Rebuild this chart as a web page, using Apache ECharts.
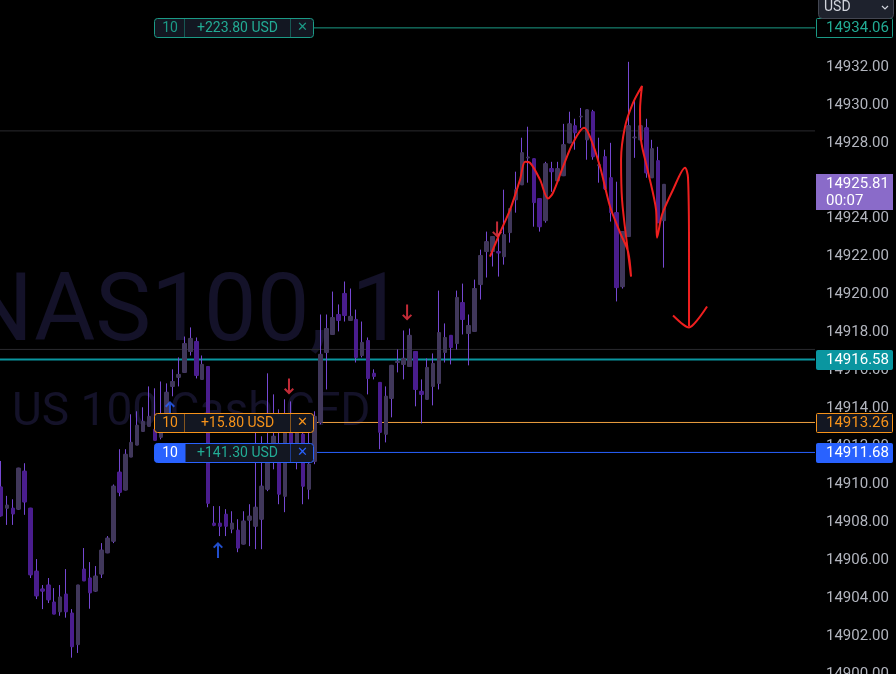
<!DOCTYPE html>
<html>
<head>
<meta charset="utf-8">
<script src="https://cdn.jsdelivr.net/npm/echarts@6/dist/echarts.min.js"></script>
<style>
  html, body { margin: 0; padding: 0; background: #000; }
  #chart { width: 896px; height: 674px; }
</style>
</head>
<body>
<div id="chart"></div>
<script>
// 1 minute bars, NAS100
const opens = [14909.86,14908.74,14908.74,14908.69,14910.69,14908.74,14905.42,14904.48,14904.69,14903.79,
  14903.28,14904.21,14903.21,14901.55,14905.53,14905.06,14904.37,14905.27,14906.39,14907.00,
  14910.64,14909.70,14911.44,14912.07,14912.79,14913.06,14912.90,14912.48,14913.42,14915.16,
  14915.64,14915.90,14917.00,14917.53,14915.53,14916.21,14907.95,14907.95,14908.42,14907.64,
  14907.58,14906.85,14908.11,14907.79,14908.16,14909.74,14911.58,14911.16,14909.37,14913.16,
  14911.95,14912.64,14909.74,14911.21,14913.27,14916.95,14917.90,14918.95,14920.06,14918.64,
  14918.69,14916.79,14917.58,14915.85,14915.37,14912.64,14914.53,14916.42,14916.32,14916.21,
  14917.00,14914.90,14914.48,14915.16,14915.32,14916.95,14917.85,14917.42,14919.58,14917.95,
  14918.06,14920.53,14922.27,14922.27,14922.27,14922.00,14923.27,14925.00,14925.79,14927.21,
  14927.16,14925.06,14923.90,14926.64,14926.00,14926.27,14928.00,14928.90,14929.37,14928.16,
  14929.64,14926.79,14927.27,14926.16,14924.32,14920.42,14923.06,14928.27,14928.16,14928.79,
  14926.16,14927.06,14923.90];
const closes = [14908.34,14908.90,14908.44,14910.85,14909.07,14905.23,14904.12,14904.37,14903.91,14903.16,
  14904.06,14903.28,14901.44,14904.69,14904.91,14904.28,14905.16,14906.53,14907.16,14909.90,
  14909.58,14911.58,14912.21,14913.11,14913.32,14913.58,14912.32,14913.21,14914.85,14915.42,
  14915.79,14917.42,14917.69,14915.74,14916.32,14909.00,14907.84,14907.79,14907.79,14907.95,
  14906.64,14908.06,14908.32,14908.79,14909.90,14912.11,14912.53,14909.48,14912.74,14911.85,
  14912.90,14909.90,14911.06,14913.58,14916.85,14918.21,14918.79,14918.64,14918.90,14918.85,
  14916.69,14917.48,14915.58,14915.69,14912.74,14914.64,14916.27,14916.48,14916.64,14917.85,
  14915.00,14914.74,14916.16,14916.37,14918.00,14917.74,14917.21,14919.85,14918.69,14918.37,
  14920.32,14922.06,14922.79,14923.06,14922.20,14923.16,14924.53,14925.53,14927.48,14927.25,
  14924.85,14923.58,14926.90,14926.48,14926.64,14927.90,14929.00,14928.53,14929.40,14929.74,
  14927.27,14926.85,14925.58,14924.32,14920.37,14923.32,14928.90,14928.30,14928.90,14926.42,
  14927.69,14923.79,14925.81];
const lows = [14908.30,14907.86,14907.86,14908.65,14908.39,14905.06,14903.95,14903.42,14903.74,14903.16,
  14903.07,14902.97,14900.86,14901.11,14904.91,14903.44,14904.33,14905.06,14906.39,14906.90,
  14909.37,14909.70,14911.44,14912.07,14912.79,14913.06,14912.32,14912.37,14913.16,14914.64,
  14915.16,14915.90,14916.79,14915.58,14915.53,14908.79,14907.79,14907.27,14907.27,14907.42,
  14906.42,14906.85,14906.74,14906.58,14906.58,14909.64,14910.79,14908.95,14908.53,14911.32,
  14910.79,14908.95,14909.21,14911.06,14913.16,14915.00,14917.90,14918.06,14918.58,14918.64,
  14916.42,14916.69,14914.74,14915.53,14911.85,14912.21,14913.53,14915.90,14915.53,14916.21,
  14914.11,14913.21,14914.48,14914.16,14915.00,14916.42,14916.32,14917.11,14917.90,14916.27,
  14918.06,14919.74,14920.90,14921.48,14920.95,14921.58,14922.74,14924.32,14925.79,14925.90,
  14923.58,14923.32,14923.79,14925.42,14926.00,14926.27,14928.00,14927.64,14928.79,14927.11,
  14927.11,14925.90,14925.53,14923.85,14919.64,14920.32,14923.06,14927.21,14928.16,14926.16,
  14926.16,14923.79,14921.42];
const highs = [14911.23,14909.39,14909.21,14910.85,14911.11,14908.74,14906.06,14904.69,14905.06,14904.53,
  14904.69,14905.53,14903.42,14904.69,14906.64,14905.90,14905.69,14906.90,14907.27,14909.99,
  14911.85,14911.85,14913.69,14913.85,14914.06,14915.16,14915.06,14915.42,14915.32,14916.06,
  14916.69,14917.79,14918.27,14917.74,14916.79,14916.21,14908.85,14908.85,14908.69,14908.58,
  14908.16,14908.58,14908.95,14912.90,14912.53,14915.85,14914.74,14913.95,14914.48,14914.37,
  14913.69,14913.42,14912.74,14913.85,14918.95,14918.95,14920.16,14919.48,14920.69,14920.32,
  14919.21,14918.58,14917.74,14916.06,14915.37,14915.16,14916.27,14917.11,14918.11,14918.21,
  14917.00,14915.53,14916.64,14916.90,14920.21,14918.48,14917.85,14920.21,14920.58,14918.95,
  14920.79,14922.37,14923.32,14923.06,14923.16,14925.53,14924.53,14926.48,14928.27,14928.85,
  14927.16,14925.06,14927.00,14927.00,14927.00,14929.00,14929.64,14929.27,14929.84,14929.74,
  14929.74,14928.27,14927.64,14928.00,14925.95,14923.32,14932.27,14930.27,14929.27,14929.27,
  14928.16,14927.79,14925.81];

// price lines / tags
const tpPrice = 14934.06, tpPnl = '+223.80 USD';
const entryPrice = 14916.58;
const order1Price = 14913.26, order1Pnl = '+15.80 USD';
const order2Price = 14911.68, order2Pnl = '+141.30 USD';
const qty = '10';
const lastPrice = 14925.81, countdown = '00:07';
const refLines = [14928.63, 14917.11];

// hand drawn stroke (bar index, price)
const drawX = [82.6,84.3,86.0,87.68,88.52,89.36,91.05,92.41,93.25,94.94,96.63,98.49,99.5,101.19,102.88,104.57,105.92,106.43,
  105.75,104.91,104.74,105.41,106.76,108.28,107.95,108.11,109.3,110.65,110.82,111.66,113.52,115.55,116.05,116.22,116.22];
const drawY = [14922.0,14923.27,14924.48,14926.06,14927.0,14926.95,14926.06,14925.06,14925.37,14926.74,14928.0,14928.79,14928.32,14926.74,14924.64,14923.27,14922.27,14920.95,
  14922.64,14925.0,14927.11,14928.85,14930.11,14931.0,14929.74,14928.16,14926.48,14924.48,14923.0,14924.21,14925.53,14926.69,14926.16,14922.37,14918.32];
const headX = [113.52,115.2,116.22,117.58,119.27];
const headY = [14918.9,14918.43,14918.27,14918.64,14919.37];

// arrows
const upArrowX = [28.55, 36.66];
const upArrowY = [14913.97, 14906.54];
const downArrowX = [48.65, 68.6, 83.8];
const downArrowY = [14915.16, 14919.05, 14923.43];

const N = 138; // slots on the time axis (empty space at the right)
const upColor = '#40375a', downColor = '#4a1d8e', wickColor = '#7548d2';
const font = 'Roboto, "Noto Sans", sans-serif';

var cats = [];
for (var i = 0; i < N; i++) cats.push(i);
var wicks = opens.map(function (o, i) { return [o, closes[i], lows[i], highs[i]]; });
var bodies = opens.map(function (o, i) {
  return [o, closes[i], Math.min(o, closes[i]), Math.max(o, closes[i])];
});
function zip(xs, ys) { return xs.map(function (x, i) { return [x, ys[i]]; }); }
function hline(price, from, color, width) {
  return {
    type: 'line', xAxisIndex: 1, data: [[from, price], [N - 0.5, price]],
    symbol: 'none', silent: true, z: 1,
    lineStyle: { color: color, width: width }
  };
}
var upPath = 'path://M5,0 L10,5 L8.6,6.4 L6,3.8 L6,16 L4,16 L4,3.8 L1.4,6.4 L0,5 Z';
var downPath = 'path://M5,16 L10,11 L8.6,9.6 L6,12.2 L6,0 L4,0 L4,12.2 L1.4,9.6 L0,11 Z';

var option = {
  backgroundColor: '#000000',
  animation: false,
  grid: { left: -2, right: 81, top: 0, bottom: 0, containLabel: false, outerBoundsMode: 'none' },
  xAxis: [{
    type: 'category', data: cats, boundaryGap: true,
    axisLine: { show: false }, axisTick: { show: false }, axisLabel: { show: false },
    splitLine: { show: false }
  }, {
    type: 'value', min: -0.5, max: N - 0.5, show: false
  }],
  yAxis: [{
    type: 'value', position: 'right', min: 14900, max: 14935.53, interval: 2,
    axisLine: { show: false }, axisTick: { show: false }, splitLine: { show: false },
    axisLabel: {
      margin: 11, color: '#b2b5be', fontSize: 15, fontFamily: font,
      formatter: function (v) { return v.toFixed(2); }
    }
  }],
  series: [
    hline(refLines[0], -0.5, '#2a2a2e', 1),
    hline(refLines[1], -0.5, '#2a2a2e', 1),
    hline(entryPrice, -0.5, '#0a96a0', 2),
    hline(tpPrice, 52.7, '#1b9a86', 1),
    hline(order1Price, 52.7, '#f0a040', 1),
    hline(order2Price, 52.7, '#2962ff', 1),
    {
      type: 'candlestick', data: wicks, barWidth: 2, z: 2,
      itemStyle: {
        color: wickColor, color0: wickColor, borderColor: wickColor,
        borderColor0: wickColor, borderColorDoji: wickColor, borderWidth: 1
      }
    },
    {
      type: 'candlestick', data: bodies, barWidth: 4, z: 3,
      itemStyle: {
        color: upColor, color0: downColor, borderColor: upColor,
        borderColor0: downColor, borderColorDoji: upColor, borderWidth: 1
      }
    },
    {
      type: 'line', xAxisIndex: 1, data: zip(drawX, drawY), smooth: 0.3,
      symbol: 'none', z: 5, lineStyle: { color: '#ef1f1f', width: 2 }
    },
    {
      type: 'line', xAxisIndex: 1, data: zip(headX, headY), smooth: 0.3,
      symbol: 'none', z: 5, lineStyle: { color: '#ef1f1f', width: 2 }
    },
    {
      type: 'scatter', xAxisIndex: 1, data: zip(upArrowX, upArrowY),
      symbol: upPath, symbolSize: [10, 16], z: 5, itemStyle: { color: '#2962ff' }
    },
    {
      type: 'scatter', xAxisIndex: 1, data: zip(downArrowX, downArrowY),
      symbol: downPath, symbolSize: [10, 16], z: 5, itemStyle: { color: '#f23645' }
    }
  ]
};

var chart = echarts.init(document.getElementById('chart'));
chart.setOption(option);

function py(p) { return chart.convertToPixel({ yAxisIndex: 0 }, p); }
function txt(text, x, y, color, size, align, z) {
  return {
    type: 'text', z: z, silent: true,
    style: {
      text: text, x: x, y: y, fill: color, font: size + 'px ' + font,
      textAlign: align, align: align, textVerticalAlign: 'middle', verticalAlign: 'middle'
    }
  };
}
function orderTag(price, pnl, color, pnlColor, qtyFilled) {
  var x0 = 154.5, w = 159, h = 19, y0 = Math.round(py(price) - h / 2) + 0.5, cy = y0 + h / 2;
  var els = [{
    type: 'rect', z: 20, shape: { x: x0, y: y0, width: w, height: h, r: 3 },
    style: { fill: '#131722', stroke: color, lineWidth: 1 }
  }];
  if (qtyFilled) {
    els.push({ type: 'rect', z: 20, shape: { x: x0, y: y0, width: 31, height: h, r: [3, 0, 0, 3] }, style: { fill: color } });
  }
  els.push({ type: 'line', z: 20, shape: { x1: x0 + 30, y1: y0, x2: x0 + 30, y2: y0 + h }, style: { stroke: color, opacity: 0.5 } });
  els.push({ type: 'line', z: 20, shape: { x1: x0 + 136, y1: y0, x2: x0 + 136, y2: y0 + h }, style: { stroke: color, opacity: 0.5 } });
  els.push(txt(qty, x0 + 15.5, cy, qtyFilled ? '#ffffff' : color, 14, 'center', 21));
  els.push(txt(pnl, x0 + 83, cy, pnlColor, 14, 'center', 21));
  els.push(txt('\u2715', x0 + 147.5, cy, color, 13, 'center', 21));
  return els;
}
function axisTag(price, text, fill, stroke, color) {
  var y0 = Math.round(py(price) - 9.5) + 0.5;
  return [{
    type: 'rect', z: 20, shape: { x: 816.5, y: y0, width: 76, height: 19, r: 1 },
    style: { fill: fill, stroke: stroke, lineWidth: 1 }
  }, txt(text, 826, y0 + 9.5, color, 15, 'left', 21)];
}

var g = [
  txt('NAS100, 1', -34, 316, '#141229', 94, 'left', 0),
  txt('US 100 Cash CFD', 12, 413, '#141229', 46, 'left', 0)
];
g = g.concat(orderTag(tpPrice, tpPnl, '#1b9a86', '#22ab94', false));
g = g.concat(orderTag(order1Price, order1Pnl, '#f7931a', '#f7931a', false));
g = g.concat(orderTag(order2Price, order2Pnl, '#2962ff', '#22ab94', true));
g = g.concat(axisTag(tpPrice, tpPrice.toFixed(2), '#000000', '#1b9a86', '#22ab94'));
g = g.concat(axisTag(entryPrice, entryPrice.toFixed(2), '#0a96a0', '#0a96a0', '#ffffff'));
g = g.concat(axisTag(order1Price, order1Price.toFixed(2), '#131722', '#f7931a', '#f7931a'));
g = g.concat(axisTag(order2Price, order2Price.toFixed(2), '#2962ff', '#2962ff', '#ffffff'));

// last price + bar countdown
var ly = Math.round(py(lastPrice));
g.push({ type: 'rect', z: 20, shape: { x: 816, y: ly - 10, width: 77, height: 36 }, style: { fill: '#8a6bc9' } });
g.push(txt(lastPrice.toFixed(2), 826, ly, '#ffffff', 15, 'left', 21));
g.push(txt(countdown, 826, ly + 17, '#ffffff', 15, 'left', 21));

// currency selector
g.push({ type: 'rect', z: 20, shape: { x: 818.5, y: -4.5, width: 75, height: 23, r: 4 }, style: { fill: '#1e222d', stroke: '#434651' } });
g.push(txt('USD', 824, 7, '#d1d4dc', 14, 'left', 21));
g.push({ type: 'polyline', z: 21, shape: { points: [[882, 6], [885, 9], [888, 6]] }, style: { stroke: '#d1d4dc', fill: null, lineWidth: 1.2 } });

chart.setOption({ graphic: g });
window.addEventListener('resize', function () { chart.resize(); });
</script>
</body>
</html>
